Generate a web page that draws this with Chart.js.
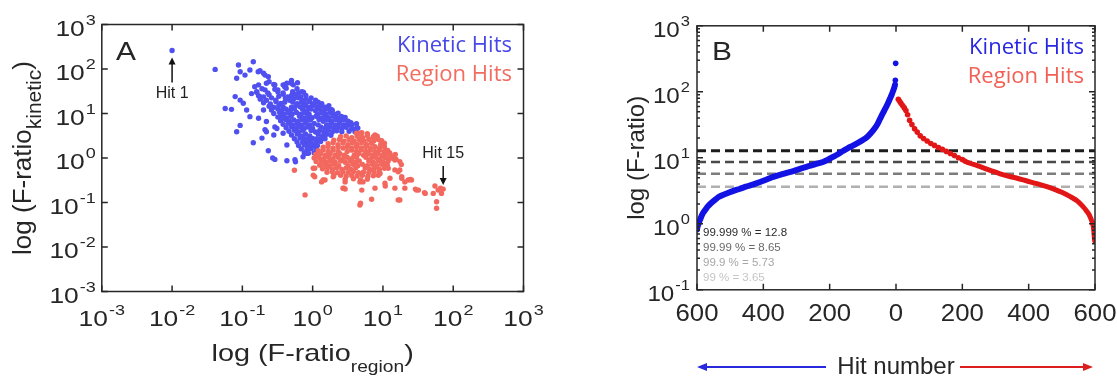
<!DOCTYPE html>
<html>
<head>
<meta charset="utf-8">
<script src="https://cdn.jsdelivr.net/npm/chart.js@4.4.1/dist/chart.umd.min.js"></script>
<style>
  html, body { margin: 0; padding: 0; background: #fff; }
  #wrap { position: relative; width: 1117px; height: 379px; overflow: hidden; }
  canvas { position: absolute; top: 0; }
  #cA { left: 0; }
  #cB { left: 560px; }
</style>
</head>
<body>
<div id="wrap">
  <canvas id="cA" width="560" height="379"></canvas>
  <canvas id="cB" width="557" height="379"></canvas>
</div>
<script>
// ---- Panel A: each hit as [F-ratio (region), F-ratio (kinetic)] ----
const kineticHits = [
  [0.01,260],[0.041,98],[0.088,123],[0.143,145],[0.093,87],[0.128,95],[0.109,73],[0.168,87],[0.178,91],[0.2,80],
  [0.21,73],[0.234,67],[0.083,62],[0.15,40],[0.22,48],[0.135,28],[0.16,31],[0.178,24],[0.21,34],[0.29,44],
  [0.32,34],[0.4,40],[0.5,48],[0.53,44],[0.43,48],[0.7,31],[0.61,49],[0.38,44],
  [0.057,13],[0.07,12.4],[0.079,24],[0.093,20],[0.103,17],[0.115,12],[0.128,8.5],[0.2,12],[0.17,7.8],[0.22,6.6],
  [0.29,5],[0.093,5.4],[0.083,3.9],[0.22,3.9],[0.21,4.3],[0.31,4.6],[0.28,3.3],[0.38,3.6],[0.143,2.2],[0.19,2.8],
  [0.234,1.46],[0.29,0.93],[0.43,0.87],[0.43,1.96],[0.27,1.0],[0.57,0.82],[0.56,0.91],[0.73,1.07],[0.82,1.27],
  [1.87,12.2],[2.1,9],[2.8,7.3],[3.5,6.2],[3.2,5.6],[4.3,4.8],[4.2,4.6],
  [0.24,52],[0.5,55],
  [0.17,44],[0.28,45],[0.4,44],
  [0.19,36],[0.29,35],[0.42,37],[0.6,36],
  [0.16,30],[0.23,29],[0.32,31],[0.38,29],[0.52,31],[0.63,29],[0.74,30],
  [0.17,25],[0.2,23.5],[0.24,26.5],[0.33,24.5],[0.38,27],[0.44,23.5],[0.5,25.5],[0.58,27],[0.68,23.5],[0.8,25.5],
  [0.18,21],[0.22,19.8],[0.26,22.5],[0.3,20],[0.41,22],[0.47,19.8],[0.54,21.5],[0.62,22.5],[0.71,19.8],[0.81,21],[0.95,22.5],[1.1,20],
  [0.2,17.4],[0.25,16.4],[0.3,18.5],[0.35,16.8],[0.4,18],[0.52,18.2],[0.6,16.6],[0.69,17.8],[0.79,16.5],[0.91,18.4],[1.05,16.8],[1.2,17.9],[1.35,16.6],
  [0.24,14.5],[0.28,13.8],[0.33,15.2],[0.38,14],[0.5,13.9],[0.58,15.3],[0.66,14.1],[0.76,15],[0.87,13.9],[1.0,15.2],[1.15,14],[1.32,15],[1.5,13.9],[1.7,15],
  [0.26,12],[0.32,12.6],[0.36,11.5],[0.42,12.5],[0.48,11.5],[0.55,12.6],[0.72,12.4],[0.83,11.5],[0.95,12.6],[1.1,11.6],[1.26,12.5],[1.45,11.5],[1.66,12.6],[1.9,11.7],
  [0.28,10],[0.34,10.5],[0.39,9.6],[0.45,10.4],[0.51,9.6],[0.59,10.5],[0.68,9.6],[0.78,10.4],[0.89,9.6],[1.17,9.6],[1.35,10.4],[1.55,9.6],[1.78,10.5],[2.05,9.6],[2.3,10.2],
  [0.32,8.3],[0.37,8.7],[0.43,7.9],[0.49,8.7],[0.65,8.7],[0.74,7.9],[0.85,8.6],[0.98,8.0],[1.12,8.7],[1.29,7.9],[1.48,8.6],[1.7,8.0],[1.95,8.7],[2.24,7.9],[2.57,8.6],[2.9,8.1],
  [0.35,6.9],[0.41,7.3],[0.47,6.6],[0.54,7.2],[0.62,6.6],[0.71,7.3],[0.81,6.7],[0.93,7.2],[1.23,7.3],[1.41,6.7],[1.62,7.2],[1.86,6.6],[2.14,7.3],[2.45,6.7],[2.82,7.2],[3.2,6.7],
  [0.38,5.7],[0.45,6.0],[0.52,5.5],[0.6,5.95],[0.69,5.5],[0.79,6.0],[0.91,5.5],[1.05,5.95],[1.2,5.55],[1.58,5.5],[1.82,5.95],[2.1,5.55],[2.4,6.0],[2.75,5.5],[3.16,5.9],[3.6,5.6],[4.2,5.9],
  [0.42,4.8],[0.5,5.0],[0.58,4.6],[0.66,5.0],[0.76,4.6],[0.87,4.95],[1.0,4.6],[1.32,4.95],[1.5,4.6],[1.74,5.0],[2.0,4.65],[2.3,5.0],[2.6,4.6],[3.0,4.9],[3.6,4.6],[4.4,4.7],
  [0.46,4.0],[0.55,4.2],[0.63,3.85],[0.72,4.2],[0.95,4.15],[1.1,3.85],[1.26,4.15],[1.45,3.85],[1.66,4.2],[1.9,3.85],[2.2,4.1],[2.6,3.9],[3.3,4.0],[4.0,3.9],
  [0.5,3.3],[0.6,3.45],[0.69,3.15],[0.79,3.45],[0.91,3.15],[1.2,3.45],[1.38,3.15],[1.58,3.4],[1.82,3.25],
  [0.55,2.7],[0.66,2.8],[0.76,2.7],[0.87,2.8],[1.0,2.75],[1.15,2.7],[1.32,2.8],[1.5,2.7],
  [0.6,2.3],[0.72,2.25],[0.83,2.35],[0.95,2.3],[1.12,2.25],[1.3,2.35],
  [0.63,1.9],[0.76,1.95],[0.87,1.88],[1.02,1.92],[1.17,1.9],
  [0.69,1.6],[0.83,1.55],[0.95,1.62],[1.12,1.58],
  [0.76,1.32],[0.87,1.28],[1.05,1.3]
];

const regionHits = [
  [72,0.2],[0.55,0.53],[0.78,0.148],[1.02,0.59],[1.02,0.41],[1.34,0.29],[1.5,0.32],[2.9,0.2],[4.7,0.088],[6.9,0.118],
  [7.7,0.21],[16.5,0.114],[14.8,0.21],[20.5,0.21],[23,0.32],[16.5,0.49],[14.8,0.9],[11.3,0.76],[11.9,0.59],[18.5,0.35],
  [30,0.19],[40,0.16],[55,0.235],[61,0.19],[66,0.21],[68,0.16],[58,0.104],[58,0.074],[12.6,0.35],[9.1,0.45],
  [7.3,0.54],[4.7,0.29],[5.0,0.19],[2.9,0.29],[1.96,0.38],[7.7,3.3],[11.3,0.64],[14,0.98],[17.4,0.83],[17.4,0.54],
  [18.5,0.38],[20.5,0.29],[25.5,0.32],[10.7,0.27],[17.4,0.114],[32,0.19],[52,0.16],[14.8,0.54],[1.07,0.38],[1.41,0.32],
  [2.7,0.21],[5.2,0.29],[7.3,3.0],[4.7,3.6],[1.07,0.59],[15.4,0.93],[18.3,0.71],[13.7,1.1],[10.8,0.66],[12.5,1.3],
  [15,1.2],[24.6,0.33],[29,0.2],[39,0.167],[10.8,0.235],[2.8,0.21],[4.8,0.096],
  [4.2,3.6],[5.0,3.7],[6.0,3.5],
  [2.5,3.0],[3.0,3.15],[3.6,2.85],[4.3,3.1],[5.1,2.9],[6.0,3.15],[7.3,2.9],[8.3,3.1],
  [2.0,2.5],[2.4,2.62],[2.8,2.4],[3.3,2.6],[3.9,2.4],[4.6,2.62],[5.4,2.42],[6.3,2.6],[7.4,2.4],[8.6,2.6],[9.6,2.45],
  [1.66,2.1],[1.95,2.2],[2.3,2.0],[2.7,2.2],[3.2,2.0],[3.7,2.18],[4.3,2.02],[5.0,2.2],[5.9,2.0],[6.9,2.15],[9.3,2.05],[10.5,2.15],
  [1.41,1.74],[1.66,1.82],[1.95,1.67],[2.3,1.8],[2.7,1.68],[3.1,1.82],[3.6,1.67],[4.2,1.8],[4.9,1.68],[5.7,1.82],[6.6,1.67],[7.7,1.8],[9.0,1.68],[10.5,1.8],
  [1.2,1.45],[1.41,1.51],[1.66,1.4],[1.95,1.5],[2.3,1.41],[3.1,1.4],[3.6,1.5],[4.2,1.41],[4.9,1.51],[5.7,1.4],[6.6,1.5],[7.7,1.41],[9.0,1.5],[10.5,1.4],[11.7,1.48],
  [1.1,1.2],[1.3,1.25],[1.52,1.15],[1.78,1.25],[2.1,1.16],[2.45,1.25],[2.85,1.15],[3.9,1.16],[4.5,1.25],[5.3,1.15],[6.2,1.25],[7.2,1.16],[8.4,1.25],[9.8,1.15],[11.4,1.24],[12.6,1.17],
  [1.05,1.0],[1.22,1.04],[1.43,0.96],[1.67,1.04],[1.95,0.96],[2.3,1.04],[2.7,0.96],[3.1,1.04],[3.6,0.96],[4.2,1.04],[5.7,1.04],[6.7,0.96],[7.8,1.04],[9.1,0.96],[10.6,1.03],[12.4,0.98],
  [1.12,0.83],[1.32,0.86],[1.55,0.8],[1.8,0.86],[2.1,0.8],[2.5,0.86],[2.9,0.8],[3.4,0.86],[4.0,0.8],[4.6,0.86],[6.3,0.86],[7.3,0.8],[8.6,0.86],[10,0.8],[11.8,0.85],
  [1.26,0.69],[1.48,0.72],[1.73,0.67],[2.0,0.72],[2.35,0.67],[3.2,0.67],[3.75,0.72],[4.4,0.67],[5.1,0.72],[6.0,0.67],[7.0,0.72],[8.2,0.67],[9.6,0.72],[11.5,0.69],
  [1.38,0.575],[1.62,0.6],[1.9,0.555],[2.2,0.6],[2.6,0.555],[3.0,0.6],[3.5,0.555],[4.1,0.6],[5.6,0.6],[6.5,0.555],[7.6,0.6],[8.9,0.56],[10.5,0.59],
  [1.6,0.48],[1.9,0.49],[2.25,0.47],[2.7,0.485],[3.2,0.475],[3.8,0.49],[4.5,0.47],[5.3,0.485],[6.3,0.475],[7.5,0.49],[8.9,0.48],
  [2.0,0.4],[2.5,0.41],[3.0,0.39],[3.6,0.405],[4.3,0.395],[5.1,0.41],[6.1,0.39],[7.3,0.4],[8.6,0.41],
  [2.9,0.33],[3.8,0.34],[4.8,0.32],[6.0,0.335]
];

// labelled hits: [text, F-ratio (region), F-ratio (kinetic)]
const hitNotes = [['Hit 1', 0.01, 260], ['Hit 15', 72, 0.2]];

// ---- Panel B: hits ranked by F-ratio ----
const kineticRank = [600,599,597,594,590,586,581,576,568,558,546,535,520,505,490,470,453,430,410,390,370,350,330,310,290,270,250,235,220,205,190,175,160,145,130,115,100,88,75,64,55,48,40,32,25,18,12,8,5,3];
const kineticF    = [0.82,0.88,0.95,1.05,1.18,1.32,1.48,1.6,1.82,2.05,2.3,2.55,2.75,2.95,3.15,3.4,3.65,3.95,4.3,4.7,5.15,5.5,5.9,6.3,6.8,7.3,7.8,8.25,8.65,9.4,10.3,11.3,12.7,14.0,15.3,16.8,18.6,20.5,24,28,33,39,47,56,66,79,93,106,117,128];
const kineticTopRank = [2, 1];
const kineticTopF    = [150, 270];

const regionTopRank = [7,11,15,20,25,30,35,41,48,56,64,73,83,94,105,116,128,140,152,164,176,188,200];
const regionTopF    = [77,72,67,62,57,52,45,37,32,27.5,24.5,21.5,19.6,18,16.5,15.4,14.3,13.4,12.5,11.6,10.8,10.0,9.4];
const regionRank = [205,213,225,245,265,290,314,340,365,395,425,455,480,500,515,530,545,557,567,575,582,587,591,594,596,597,598,599];
const regionF    = [9.1,8.65,8.2,7.6,7.0,6.3,5.73,5.25,4.9,4.45,4.05,3.65,3.3,3.0,2.75,2.5,2.25,1.98,1.75,1.55,1.38,1.22,1.08,0.95,0.82,0.72,0.62,0.55];

const percentiles = ['99.999', '99.99', '99.9', '99'];
const thresholds  = [12.8, 8.65, 5.73, 3.65];

// tick positions
const decadesA = [-3, -2, -1, 0, 1, 2, 3];
const decadesB = [-1, 0, 1, 2, 3];
const hitTicks = [-600, -400, -200, 0, 200, 400, 600];

// ---- drawing helpers ----
const SANS = '"Liberation Sans", Arial, Helvetica, sans-serif';
const LEGF = '"Open Sans", "Noto Sans", sans-serif';
const INK = '#262626';

function txt(ctx, s, x, y, o) {
  ctx.save();
  ctx.translate(x, y);
  if (o.rot) ctx.rotate(o.rot);
  ctx.scale(o.sx || 1, 1);
  ctx.font = o.size + 'px ' + (o.family || SANS);
  ctx.fillStyle = o.color || INK;
  ctx.textAlign = o.align || 'left';
  ctx.textBaseline = o.baseline || 'middle';
  ctx.fillText(s, 0, 0);
  ctx.restore();
}
function tw(ctx, s, size, family) {
  ctx.save();
  ctx.font = size + 'px ' + (family || SANS);
  const w = ctx.measureText(s).width;
  ctx.restore();
  return w;
}
function pow10(ctx, exp, x, y, align, sx) {
  const e = String(exp);
  const wb = tw(ctx, '10', 22) * sx, we = tw(ctx, e, 15) * sx;
  const total = wb + we + 1;
  const x0 = align === 'right' ? x - total : align === 'center' ? x - total / 2 : x;
  txt(ctx, '10', x0, y, { size: 22, sx });
  txt(ctx, e, x0 + wb + 1, y - 9, { size: 15, sx });
}
// "main" + subscript + closing paren, centred on (cx, baseline) in a possibly rotated frame
function subTitle(ctx, main, sub, close, cx, base, rot, sx, mainSize, subSize, subDrop) {
  const wm = tw(ctx, main, mainSize) * sx, ws = tw(ctx, sub, subSize) * sx, wc = tw(ctx, close, mainSize) * sx;
  const total = wm + ws + wc;
  ctx.save();
  ctx.translate(cx, base);
  ctx.rotate(rot);
  const x0 = -total / 2;
  txt(ctx, main, x0, 0, { size: mainSize, sx, baseline: 'alphabetic' });
  txt(ctx, sub, x0 + wm, subDrop, { size: subSize, sx, baseline: 'alphabetic' });
  txt(ctx, close, x0 + wm + ws, 0, { size: mainSize, sx, baseline: 'alphabetic' });
  ctx.restore();
}
function arrow(ctx, x1, y1, x2, y2, color, lw, head, half) {
  const a = Math.atan2(y2 - y1, x2 - x1), c = Math.cos(a), s = Math.sin(a);
  ctx.save();
  ctx.strokeStyle = color; ctx.fillStyle = color; ctx.lineWidth = lw;
  ctx.beginPath(); ctx.moveTo(x1, y1); ctx.lineTo(x2 - c * head * 0.8, y2 - s * head * 0.8); ctx.stroke();
  ctx.beginPath();
  ctx.moveTo(x2, y2);
  ctx.lineTo(x2 - c * head + s * half, y2 - s * head - c * half);
  ctx.lineTo(x2 - c * head - s * half, y2 - s * head + c * half);
  ctx.closePath(); ctx.fill();
  ctx.restore();
}

// ---- panel A decorations: box, ticks, labels, legend, notes ----
const panelA = {
  id: 'panelA',
  afterDatasetsDraw(chart) {
    const ctx = chart.ctx, a = chart.chartArea, xs = chart.scales.x, ys = chart.scales.y;
    ctx.save();
    ctx.strokeStyle = INK; ctx.lineWidth = 1.5;
    ctx.strokeRect(a.left, a.top, a.right - a.left, a.bottom - a.top);
    ctx.beginPath();
    decadesA.forEach(e => {
      const px = xs.getPixelForValue(10 ** e), py = ys.getPixelForValue(10 ** e);
      ctx.moveTo(px, a.bottom); ctx.lineTo(px, a.bottom - 6);
      ctx.moveTo(px, a.top); ctx.lineTo(px, a.top + 6);
      ctx.moveTo(a.left, py); ctx.lineTo(a.left + 6, py);
      ctx.moveTo(a.right, py); ctx.lineTo(a.right - 6, py);
    });
    ctx.stroke();
    decadesA.forEach(e => {
      pow10(ctx, e, xs.getPixelForValue(10 ** e), a.bottom + 28, 'center', 1.2);
      pow10(ctx, e, a.left - 6, ys.getPixelForValue(10 ** e) + 5, 'right', 1.2);
    });
    const cx = (a.left + a.right) / 2, cy = (a.top + a.bottom) / 2;
    subTitle(ctx, 'log (F-ratio', 'region', ')', cx, 361, 0, 1.2, 24, 16, 11);
    subTitle(ctx, 'log (F-ratio', 'kinetic', ')', 31, cy, -Math.PI / 2, 1.0, 26, 21, 10);
    txt(ctx, 'A', 126, 53, { size: 26, sx: 1.15, align: 'center' });
    txt(ctx, 'Kinetic Hits', 512, 46, { size: 21, family: LEGF, color: 'rgb(72,72,232)', align: 'right', sx: 1.05 });
    txt(ctx, 'Region Hits', 512, 75, { size: 21, family: LEGF, color: 'rgb(242,108,96)', align: 'right', sx: 1.05 });
    // Hit 1 (arrow points up at the dot)
    const h1x = xs.getPixelForValue(hitNotes[0][1]), h1y = ys.getPixelForValue(hitNotes[0][2]);
    arrow(ctx, h1x, h1y + 32, h1x, h1y + 7, '#111', 1.5, 7, 3.5);
    txt(ctx, hitNotes[0][0], h1x, h1y + 43, { size: 16, align: 'center', color: '#222' });
    // Hit 15 (arrow points down at the dot)
    const h2x = xs.getPixelForValue(hitNotes[1][1]), h2y = ys.getPixelForValue(hitNotes[1][2]);
    arrow(ctx, h2x, h2y - 23, h2x, h2y - 4, '#111', 1.5, 7, 3.5);
    txt(ctx, hitNotes[1][0], h2x, h2y - 36, { size: 16, align: 'center', color: '#222' });
    ctx.restore();
  }
};

new Chart(document.getElementById('cA'), {
  type: 'scatter',
  data: {
    datasets: [
      { label: 'Kinetic Hits', data: kineticHits.map(p => ({ x: p[0], y: p[1] })),
        backgroundColor: 'rgb(80,80,240)', pointRadius: 2.7, borderWidth: 0, order: 1 },
      { label: 'Region Hits', data: regionHits.map(p => ({ x: p[0], y: p[1] })),
        backgroundColor: 'rgb(243,104,94)', pointRadius: 2.7, borderWidth: 0, order: 0 }
    ]
  },
  options: {
    responsive: false, animation: false, devicePixelRatio: 1, events: [],
    layout: { padding: { left: 101.8, right: 36.5, top: 24.5, bottom: 87.5 } },
    scales: {
      x: { type: 'logarithmic', min: 1e-3, max: 1e3, display: false },
      y: { type: 'logarithmic', min: 1e-3, max: 1e3, display: false }
    },
    plugins: { legend: { display: false }, tooltip: { enabled: false } }
  },
  plugins: [panelA]
});

// ---- panel B ----
const dashColors = ['#1c1c1c', '#4a4a4a', '#7c7c7c', '#b0b0b0'];
const dashWidths = [3, 2.5, 2.5, 2.5];
const pctColors  = ['#2a2a2a', '#6a6a6a', '#a6a6a6', '#c6c6c6'];
const BLUE_B = 'rgb(18,18,228)', RED_B = 'rgb(226,22,22)';

const panelB = {
  id: 'panelB',
  afterDatasetsDraw(chart) {
    const ctx = chart.ctx, a = chart.chartArea, xs = chart.scales.x, ys = chart.scales.y;
    ctx.save();
    ctx.strokeStyle = INK; ctx.lineWidth = 1.5;
    ctx.strokeRect(a.left, a.top, a.right - a.left, a.bottom - a.top);
    ctx.beginPath();
    hitTicks.forEach(v => {
      const px = xs.getPixelForValue(v);
      ctx.moveTo(px, a.bottom); ctx.lineTo(px, a.bottom - 6);
      ctx.moveTo(px, a.top); ctx.lineTo(px, a.top + 6);
    });
    decadesB.forEach(e => {
      const py = ys.getPixelForValue(10 ** e);
      ctx.moveTo(a.left, py); ctx.lineTo(a.left + 6, py);
      ctx.moveTo(a.right, py); ctx.lineTo(a.right - 6, py);
      if (e < 3) {
        for (let m = 2; m <= 9; m++) {
          const pm = ys.getPixelForValue(m * 10 ** e);
          ctx.moveTo(a.left, pm); ctx.lineTo(a.left + 3, pm);
          ctx.moveTo(a.right, pm); ctx.lineTo(a.right - 3, pm);
        }
      }
    });
    ctx.stroke();
    hitTicks.forEach(v => {
      txt(ctx, String(Math.abs(v)), xs.getPixelForValue(v), a.bottom + 25, { size: 23, sx: 1.12, align: 'center' });
    });
    decadesB.forEach(e => pow10(ctx, e, a.left - 7, ys.getPixelForValue(10 ** e) + 5, 'right', 1.1));
    txt(ctx, 'log (F-ratio)', 84, (a.top + a.bottom) / 2, { size: 24, rot: -Math.PI / 2, align: 'center', baseline: 'alphabetic' });
    txt(ctx, 'B', 162, 53, { size: 26, sx: 1.15, align: 'center' });
    txt(ctx, 'Kinetic Hits', 524, 48, { size: 21, family: LEGF, color: 'rgb(40,40,226)', align: 'right', sx: 1.05 });
    txt(ctx, 'Region Hits', 524, 77, { size: 21, family: LEGF, color: 'rgb(242,96,86)', align: 'right', sx: 1.05 });
    percentiles.forEach((p, i) => {
      txt(ctx, p + ' % = ' + thresholds[i], a.left + 6, 233 + i * 15, { size: 11.5, color: pctColors[i] });
    });
    // hit-number axis caption with direction arrows
    const mid = xs.getPixelForValue(0);
    txt(ctx, 'Hit number', mid, 367, { size: 24, align: 'center' });
    arrow(ctx, mid - 70, 367, a.left, 367, 'rgb(40,40,220)', 2, 10, 4);
    arrow(ctx, mid + 64, 367, a.right - 2, 367, 'rgb(220,30,30)', 2, 10, 4);
    ctx.restore();
  }
};

const pts = (ranks, vals, sign) => ranks.map((r, i) => ({ x: sign * r, y: vals[i] }));

new Chart(document.getElementById('cB'), {
  type: 'scatter',
  data: {
    datasets: [
      ...thresholds.map((v, i) => ({
        label: percentiles[i] + ' %', data: [{ x: -600, y: v }, { x: 600, y: v }], showLine: true,
        borderColor: dashColors[i], borderWidth: dashWidths[i], borderDash: [9, 5], pointRadius: 0, order: 2
      })),
      { label: 'Kinetic Hits', data: pts(kineticRank, kineticF, -1), showLine: true,
        borderColor: BLUE_B, backgroundColor: BLUE_B, borderWidth: 6, pointRadius: 0,
        cubicInterpolationMode: 'monotone', borderCapStyle: 'round', borderJoinStyle: 'round', order: 1 },
      { label: 'Kinetic Hits (top)', data: pts(kineticTopRank, kineticTopF, -1),
        backgroundColor: BLUE_B, pointRadius: 2.8, borderWidth: 0, order: 1 },
      { label: 'Region Hits (top)', data: pts(regionTopRank, regionTopF, 1),
        backgroundColor: RED_B, pointRadius: 2.8, borderWidth: 0, order: 1 },
      { label: 'Region Hits', data: pts(regionRank, regionF, 1), showLine: true,
        borderColor: RED_B, backgroundColor: RED_B, borderWidth: 5, pointRadius: 0,
        cubicInterpolationMode: 'monotone', borderCapStyle: 'round', borderJoinStyle: 'round', order: 1 }
    ]
  },
  options: {
    responsive: false, animation: false, devicePixelRatio: 1, events: [],
    layout: { padding: { left: 137, right: 22, top: 25.8, bottom: 89.2 } },
    scales: {
      x: { type: 'linear', min: -600, max: 600, display: false },
      y: { type: 'logarithmic', min: 0.1, max: 1000, display: false }
    },
    plugins: { legend: { display: false }, tooltip: { enabled: false } }
  },
  plugins: [panelB]
});
</script>
</body>
</html>
